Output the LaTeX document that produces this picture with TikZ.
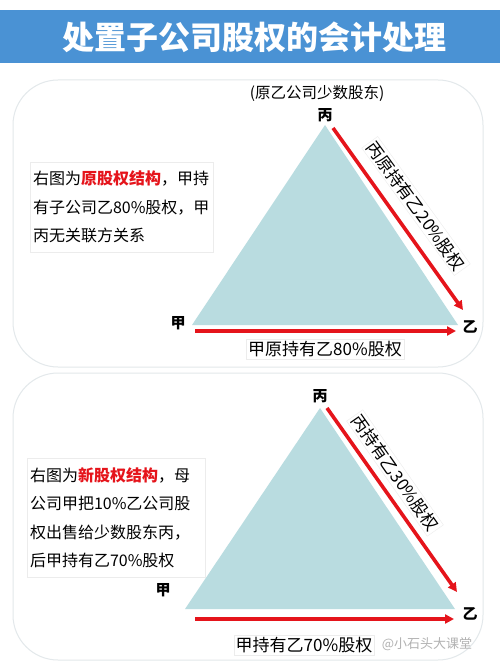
\documentclass[tikz,border=0pt]{standalone}
\usepackage{fontspec}
\setmainfont{Noto Sans CJK SC}
\usetikzlibrary{arrows.meta}
\definecolor{titleblue}{HTML}{4A92D4}
\definecolor{trifill}{HTML}{B9DCE0}
\definecolor{arrred}{HTML}{E5141B}
\definecolor{panelline}{HTML}{E3E8EB}
\definecolor{boxline}{HTML}{ECECEC}
\tikzset{
  panel/.style={draw=panelline, line width=1pt, rounded corners=45pt, fill=white},
  tri/.style={fill=trifill},
  redarrow/.style={draw=arrred, line width=3.6pt, -{Triangle[length=9pt,width=9pt]}},
  vertex/.style={font=\fontsize{15}{16}\selectfont\bfseries, inner sep=0pt},
  lbl/.style={font=\fontsize{17}{18}\selectfont, fill=white, draw=boxline, inner sep=2pt},
  descbox/.style={font=\fontsize{16}{28.5}\selectfont, fill=white, draw=boxline, align=left, inner xsep=3pt},
  hl/.style={},
}
\newcommand{\redbold}[1]{{\color{arrred}\bfseries #1}}
\begin{document}
\begin{tikzpicture}[x=1pt,y=-1pt]
\useasboundingbox (0,0) rectangle (500,666);
\fill[white] (0,0) rectangle (500,666);
% title
\fill[titleblue] (0,10) rectangle (500,63);
\node[font=\fontsize{32}{34}\selectfont\bfseries, text=white] (title) at (254,37) {处置子公司股权的会计处理};

% ---------- panel 1 ----------
\draw[panel] (13,80) rectangle (483,367);
\coordinate (A1) at (325,125);
\coordinate (B1) at (192,325);
\coordinate (C1) at (458,325);
\fill[tri] (A1) -- (B1) -- (C1) -- cycle;
\node[font=\fontsize{15.5}{17}\selectfont] (note1) at (317,93) {(原乙公司少数股东)};
\node[vertex] (bing1) at (325,115) {丙};
\node[vertex] (yi1) at (470,327) {乙};
\node[vertex] (jia1) at (178,323) {甲};
\coordinate (s1a) at (195,331);
\coordinate (s1b) at (456,331);
\coordinate (t1a) at (333,128);
\coordinate (t1b) at (463,310);
\draw[redarrow] (s1a) -- (s1b);
\draw[redarrow] (t1a) -- (t1b);
\node[lbl, rotate=-54] (l1a) at (416,206) {丙原持有乙20\%股权};
\node[lbl] (l1b) at (325,349) {甲原持有乙80\%股权};
\node[descbox, text width=177pt, minimum height=90pt] (desc1) at (121.5,207)
  {右图为\redbold{原股权结构}，甲持\\有子公司乙80\%股权，甲\\丙无关联方关系};

% ---------- panel 2 ----------
\draw[panel] (13,373) rectangle (483,660);
\coordinate (A2) at (320,408);
\coordinate (B2) at (185,609);
\coordinate (C2) at (455,609);
\fill[tri] (A2) -- (B2) -- (C2) -- cycle;
\node[vertex] (bing2) at (320,396) {丙};
\node[vertex] (yi2) at (470,614) {乙};
\node[vertex] (jia2) at (163,590) {甲};
\coordinate (s2a) at (195,619);
\coordinate (s2b) at (454,619);
\coordinate (t2a) at (327,408);
\coordinate (t2b) at (457,592);
\draw[redarrow] (s2a) -- (s2b);
\draw[redarrow] (t2a) -- (t2b);
\node[lbl, rotate=-55] (l2a) at (395,473) {丙持有乙30\%股权};
\node[lbl] (l2b) at (304,645) {甲持有乙70\%股权};
\node[descbox, text width=172pt, minimum height=119pt] (desc2) at (116,518)
  {右图为\redbold{新股权结构}，母\\公司甲把10\%乙公司股\\权出售给少数股东丙，\\后甲持有乙70\%股权};
\node[font=\fontsize{13}{14}\selectfont, text=black!30, inner sep=0pt] (wm) at (427,644) {@小石头大课堂};
\end{tikzpicture}
\end{document}
